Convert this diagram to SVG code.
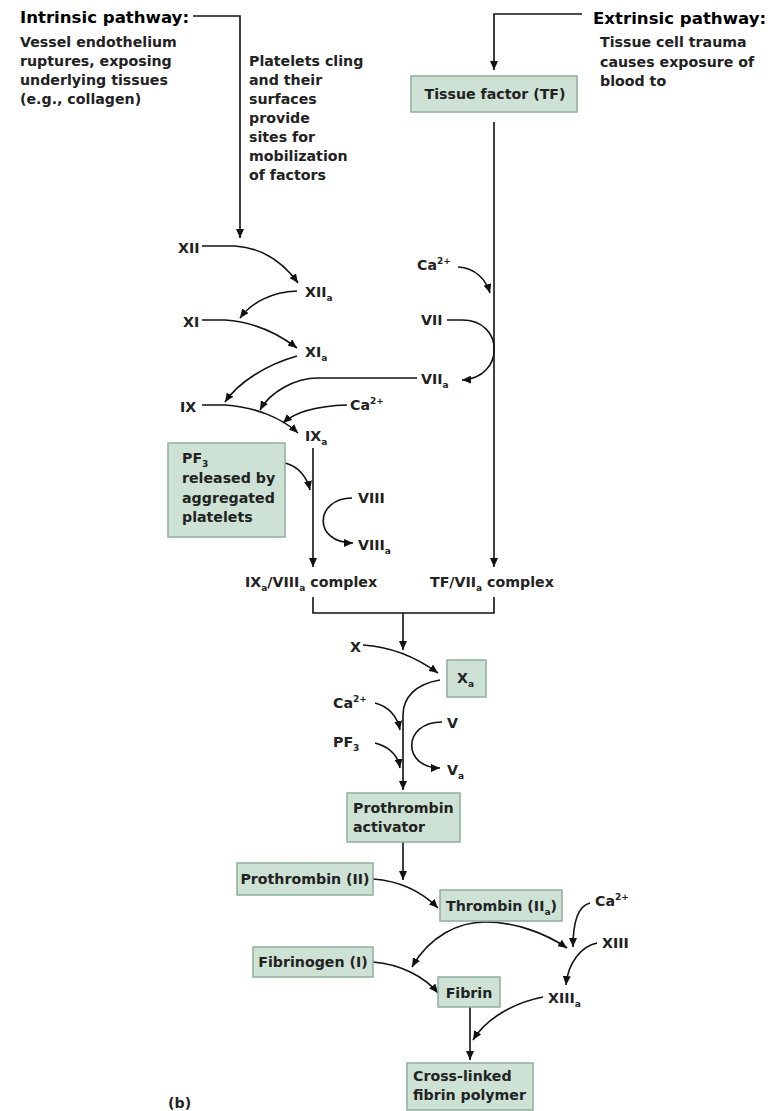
<svg xmlns="http://www.w3.org/2000/svg" width="772" height="1111" viewBox="0 0 772 1111">
<defs>
<marker id="ah" markerUnits="userSpaceOnUse" markerWidth="10" markerHeight="8" refX="9" refY="4" orient="auto-start-reverse"><path d="M0,0 L9,4 L0,8 z" fill="#111"/></marker>
<style>
text{font-family:"DejaVu Sans","Liberation Sans",sans-serif;font-weight:bold;font-size:14.2px;fill:#222}
.h{font-size:16.6px;fill:#000}
.sub{font-size:9px}
.box{fill:#cde2d5;stroke:#8fae9e;stroke-width:1.5}
.c{fill:none;stroke:#111;stroke-width:1.6}
.a{marker-end:url(#ah)}
</style>
</defs>
<rect width="772" height="1111" fill="#fff"/>

<g id="connectors">
<path class="c a" d="M193,16 H240 V238"/>
<path class="c a" d="M582,14 H494 V70"/>
<path class="c a" d="M494,122 V567"/>
<path class="c a" d="M458,267 C476,268 486,280 490,293"/>
<path class="c a" d="M447,320 H462 C505,320 505,378 462,380"/>
<path class="c a" d="M417,378 H318 C295,378 270,392 260,410"/>
<path class="c a" d="M202,246 H235 C265,248 285,265 298,283"/>
<path class="c a" d="M297,291 C272,292 252,302 240,318"/>
<path class="c a" d="M202,320 H225 C255,322 280,335 297,348"/>
<path class="c a" d="M297,356 C265,365 238,383 225,402"/>
<path class="c a" d="M202,405 H225 C255,407 282,418 298,433"/>
<path class="c a" d="M347,405 C315,406 295,412 283,423"/>
<path class="c a" d="M313,448 V567"/>
<path class="c a" d="M285,463 C298,466 307,477 310,490"/>
<path class="c a" d="M352,498 C315,498 312,543 353,543"/>
<path class="c" d="M313,597 V613 H494 V597"/>
<path class="c a" d="M403,613 V650"/>
<path class="c a" d="M363,645 C395,647 420,660 438,673"/>
<path class="c a" d="M440,680 C415,684 403,698 403,715 V790"/>
<path class="c a" d="M375,703 C390,707 397,716 400,730"/>
<path class="c a" d="M375,743 C390,747 398,756 400,768"/>
<path class="c a" d="M442,722 C402,722 402,768 440,768"/>
<path class="c a" d="M403,842 V880"/>
<path class="c a" d="M373,879 C400,881 422,892 438,908"/>
<path class="c a" d="M590,903 C578,906 573,922 573,947"/>
<path class="c a" d="M597,943 C582,946 568,962 566,985"/>
<path class="c" style="marker-start:url(#ah);marker-end:url(#ah)" d="M412,967 C430,935 460,922 485,922 C515,922 545,933 567,948"/>
<path class="c a" d="M373,962 C400,964 425,977 438,993"/>
<path class="c a" d="M470,1007 V1060"/>
<path class="c a" d="M543,997 C512,1003 485,1020 473,1040"/>
</g>

<g id="intrinsic-title">
<text class="h" x="20" y="23">Intrinsic pathway:</text>
<text x="20" y="47">Vessel endothelium</text>
<text x="20" y="66">ruptures, exposing</text>
<text x="20" y="85">underlying tissues</text>
<text x="20" y="104">(e.g., collagen)</text>
</g>
<g id="platelets-note">
<text x="249" y="66">Platelets cling</text>
<text x="249" y="85">and their</text>
<text x="249" y="104">surfaces</text>
<text x="249" y="123">provide</text>
<text x="249" y="142">sites for</text>
<text x="249" y="161">mobilization</text>
<text x="249" y="180">of factors</text>
</g>
<g id="extrinsic-title">
<text class="h" x="593" y="24">Extrinsic pathway:</text>
<text x="600" y="47">Tissue cell trauma</text>
<text x="600" y="67">causes exposure of</text>
<text x="600" y="86">blood to</text>
</g>
<g id="tissue-factor">
<rect class="box" x="411" y="76" width="166" height="36"/>
<text x="495" y="99" text-anchor="middle">Tissue factor (TF)</text>
</g>
<g id="ca-ext"><text x="417" y="270">Ca<tspan class="sub" dy="-6">2+</tspan></text></g>
<g id="vii"><text x="421" y="325">VII</text></g>
<g id="viia"><text x="421" y="384">VII<tspan class="sub" dy="4">a</tspan></text></g>
<g id="xii"><text x="178" y="253">XII</text></g>
<g id="xiia"><text x="305" y="297">XII<tspan class="sub" dy="4">a</tspan></text></g>
<g id="xi"><text x="183" y="327">XI</text></g>
<g id="xia"><text x="305" y="357">XI<tspan class="sub" dy="4">a</tspan></text></g>
<g id="ix"><text x="180" y="412">IX</text></g>
<g id="ca-int"><text x="350" y="410">Ca<tspan class="sub" dy="-6">2+</tspan></text></g>
<g id="ixa"><text x="305" y="441">IX<tspan class="sub" dy="4">a</tspan></text></g>
<g id="pf3-box">
<rect class="box" x="168" y="443" width="117" height="94"/>
<text x="182" y="463">PF<tspan class="sub" dy="4">3</tspan></text>
<text x="182" y="483">released by</text>
<text x="182" y="503">aggregated</text>
<text x="182" y="522">platelets</text>
</g>
<g id="viii"><text x="358" y="503">VIII</text></g>
<g id="viiia"><text x="358" y="550">VIII<tspan class="sub" dy="4">a</tspan></text></g>
<g id="ixa-viiia"><text x="245" y="587">IX<tspan class="sub" dy="4">a</tspan><tspan dy="-4">/VIII</tspan><tspan class="sub" dy="4">a</tspan><tspan dy="-4"> complex</tspan></text></g>
<g id="tf-viia"><text x="430" y="587">TF/VII<tspan class="sub" dy="4">a</tspan><tspan dy="-4"> complex</tspan></text></g>
<g id="x"><text x="350" y="652">X</text></g>
<g id="xa">
<rect class="box" x="447" y="660" width="39" height="37"/>
<text x="457" y="683">X<tspan class="sub" dy="4">a</tspan></text>
</g>
<g id="ca-x"><text x="333" y="708">Ca<tspan class="sub" dy="-6">2+</tspan></text></g>
<g id="pf3-x"><text x="333" y="747">PF<tspan class="sub" dy="4">3</tspan></text></g>
<g id="v"><text x="447" y="728">V</text></g>
<g id="va"><text x="447" y="775">V<tspan class="sub" dy="4">a</tspan></text></g>
<g id="prothrombin-activator">
<rect class="box" x="347" y="793" width="113" height="49"/>
<text x="353" y="813">Prothrombin</text>
<text x="353" y="832">activator</text>
</g>
<g id="prothrombin">
<rect class="box" x="237" y="863" width="136" height="32"/>
<text x="305" y="884" text-anchor="middle">Prothrombin (II)</text>
</g>
<g id="thrombin">
<rect class="box" x="440" y="890" width="122" height="31"/>
<text x="446" y="911">Thrombin (II<tspan class="sub" dy="4">a</tspan><tspan dy="-4">)</tspan></text>
</g>
<g id="ca-xiii"><text x="595" y="906">Ca<tspan class="sub" dy="-6">2+</tspan></text></g>
<g id="xiii"><text x="602" y="948">XIII</text></g>
<g id="xiiia"><text x="548" y="1003">XIII<tspan class="sub" dy="4">a</tspan></text></g>
<g id="fibrinogen">
<rect class="box" x="253" y="947" width="120" height="30"/>
<text x="313" y="967" text-anchor="middle">Fibrinogen (I)</text>
</g>
<g id="fibrin">
<rect class="box" x="438" y="977" width="62" height="30"/>
<text x="469" y="998" text-anchor="middle">Fibrin</text>
</g>
<g id="cross-linked">
<rect class="box" x="407" y="1063" width="126" height="47"/>
<text x="413" y="1081">Cross-linked</text>
<text x="413" y="1100">fibrin polymer</text>
</g>
<g id="label-b"><text x="168" y="1108">(b)</text></g>
</svg>
